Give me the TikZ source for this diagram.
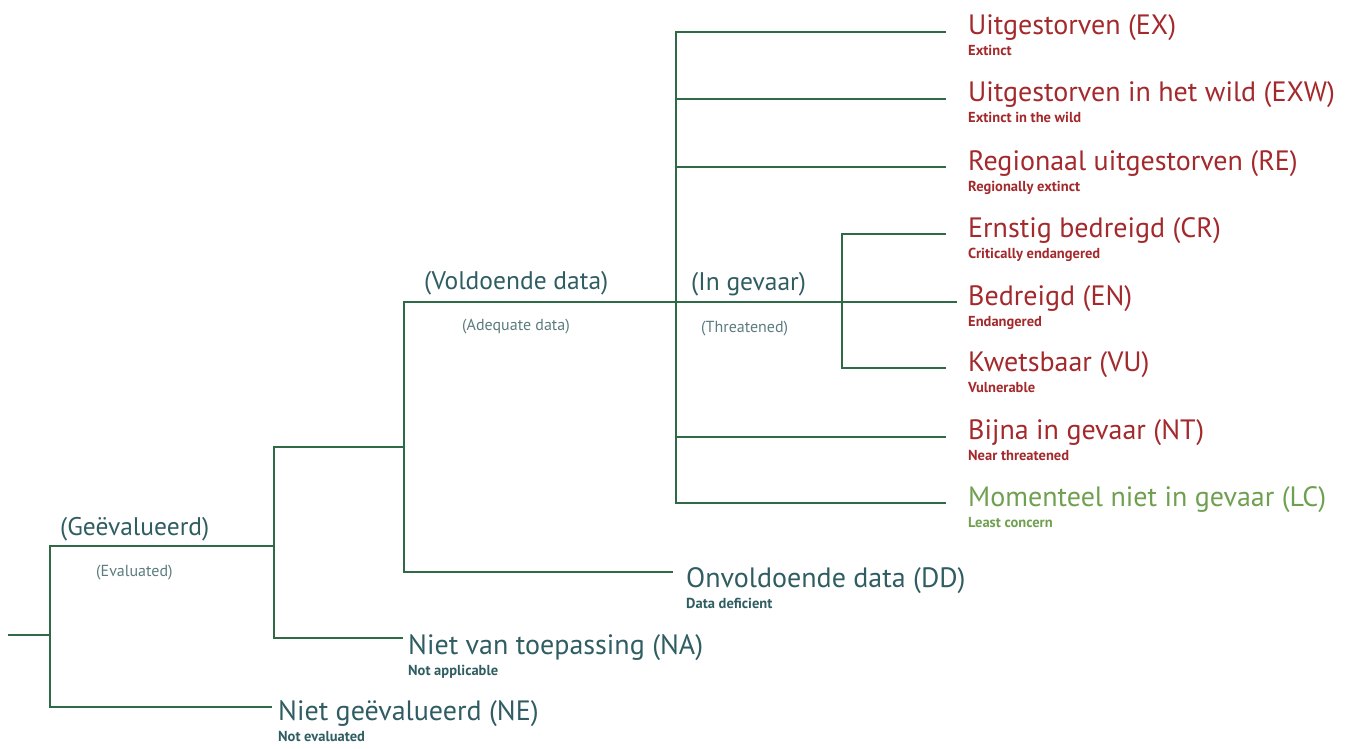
\documentclass[tikz,border=0pt]{standalone}
\usepackage{fontspec}
\setmainfont{PT Sans}
\usetikzlibrary{calc}
\definecolor{lin}{HTML}{2E6A45}
\definecolor{redt}{HTML}{A3292C}
\definecolor{tealt}{HTML}{2F5D62}
\definecolor{tealsub}{HTML}{5B7B7E}
\definecolor{grnt}{HTML}{6FA050}
\tikzset{
  conn/.style={draw=lin, line width=2.3pt},
  mainlbl/.style={anchor=base west, inner sep=0pt, font=\fontsize{28}{28}\selectfont},
  sublbl/.style={anchor=base west, inner sep=0pt, font=\bfseries\fontsize{14.5}{14.5}\selectfont},
  grplbl/.style={anchor=base west, inner sep=0pt, text=tealt, font=\fontsize{25.5}{25.5}\selectfont},
  grpsub/.style={anchor=base west, inner sep=0pt, text=tealsub, font=\fontsize{16}{16}\selectfont},
  redl/.style={text=redt},
  teall/.style={text=tealt},
  grnl/.style={text=grnt}
}
\begin{document}
\begin{tikzpicture}[x=1pt,y=-1pt]
\useasboundingbox (0,0) rectangle (1346,749);
% junction coordinates
\coordinate (r) at (8,635);
\coordinate (a) at (50,635);
\coordinate (a1) at (50,546);
\coordinate (b) at (274,546);
\coordinate (b1) at (274,447);
\coordinate (c) at (404,447);
\coordinate (c1) at (404,302);
\coordinate (dtop) at (676,32);
\coordinate (etop) at (842,234);
% free ends
\coordinate (neE) at (272,707);
\coordinate (naE) at (403,638);
\coordinate (ddE) at (673,572);
\coordinate (exE) at (946,32);
\coordinate (exwE) at (946,99);
\coordinate (reE) at (946,167);
\coordinate (crE) at (946,234);
\coordinate (enE) at (957,302);
\coordinate (vuE) at (946,368);
\coordinate (ntE) at (946,437);
\coordinate (lcE) at (946,503);
% connectors
\draw[conn] (r) -- (a);
\draw[conn] (neE) -| (a1) -- (b);
\draw[conn] (naE) -| (b1) -- (c);
\draw[conn] (ddE) -| (c1) -- (enE);
\draw[conn] (lcE) -| (dtop) -- (exE);
\draw[conn] (dtop |- exwE) -- (exwE);
\draw[conn] (dtop |- reE) -- (reE);
\draw[conn] (dtop |- ntE) -- (ntE);
\draw[conn] (vuE) -| (etop) -- (crE);
% group labels
\node[grplbl] (gev) at (60,535) {(Geëvalueerd)};
\node[grpsub] (gevs) at (96,576) {(Evaluated)};
\node[grplbl] (vd) at (424,289) {(Voldoende data)};
\node[grpsub] (vds) at (462,330) {(Adequate data)};
\node[grplbl] (ig) at (691,290) {(In gevaar)};
\node[grpsub] (igs) at (701,332) {(Threatened)};
% right labels
\node[mainlbl,redl] (ex) at (968,35) {Uitgestorven (EX)};
\node[sublbl,redl] (exs) at (968,56) {Extinct};
\node[mainlbl,redl] (exw) at (968,102) {Uitgestorven in het wild (EXW)};
\node[sublbl,redl] (exws) at (968,123) {Extinct in the wild};
\node[mainlbl,redl] (re) at (968,170) {Regionaal uitgestorven (RE)};
\node[sublbl,redl] (res) at (968,191) {Regionally extinct};
\node[mainlbl,redl] (cr) at (968,237) {Ernstig bedreigd (CR)};
\node[sublbl,redl] (crs) at (968,258) {Critically endangered};
\node[mainlbl,redl] (en) at (968,305) {Bedreigd (EN)};
\node[sublbl,redl] (ens) at (968,326) {Endangered};
\node[mainlbl,redl] (vu) at (968,371) {Kwetsbaar (VU)};
\node[sublbl,redl] (vus) at (968,392) {Vulnerable};
\node[mainlbl,redl] (nt) at (968,439) {Bijna in gevaar (NT)};
\node[sublbl,redl] (nts) at (968,460) {Near threatened};
\node[mainlbl,grnl] (lc) at (968,506) {Momenteel niet in gevaar (LC)};
\node[sublbl,grnl] (lcs) at (968,527) {Least concern};
% lower labels
\node[mainlbl,teall] (dd) at (686,587) {Onvoldoende data (DD)};
\node[sublbl,teall] (dds) at (686,608) {Data deficient};
\node[mainlbl,teall] (na) at (408,654) {Niet van toepassing (NA)};
\node[sublbl,teall] (nas) at (408,675) {Not applicable};
\node[mainlbl,teall] (ne) at (278,720) {Niet geëvalueerd (NE)};
\node[sublbl,teall] (nes) at (278,741) {Not evaluated};
\end{tikzpicture}
\end{document}
